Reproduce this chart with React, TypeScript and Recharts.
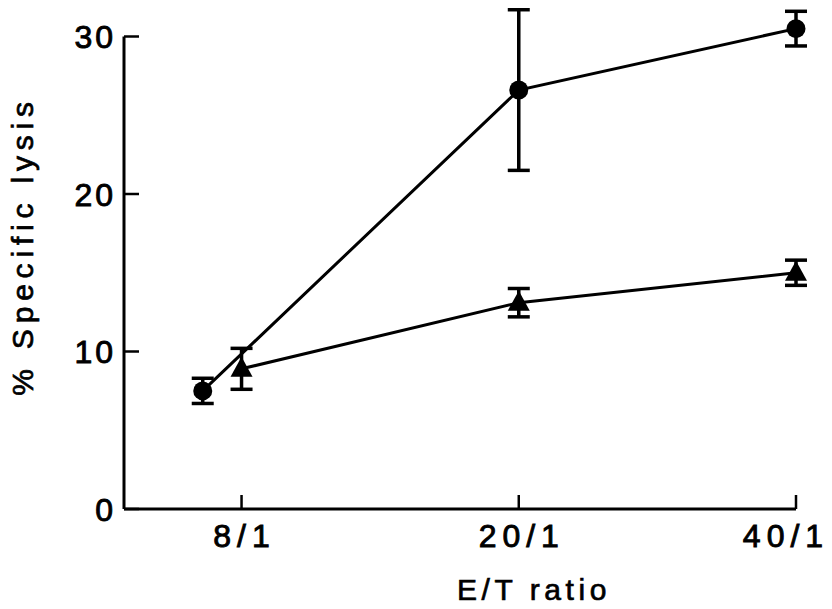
import React from "react";
import {
  ComposedChart,
  Line,
  XAxis,
  YAxis,
  ErrorBar,
  ReferenceLine,
  Label,
} from "recharts";

// E/T ratio categories, placed at index 0..2 on a numeric x axis
const categories = ["8/1", "20/1", "40/1"];

// filled circles (first point drawn a bit left of 8/1, as in the figure)
const circleX = [-0.14, 1, 2];
const circleLysis = [7.5, 26.6, 30.5];
const circleErr = [0.8, 5.1, 1.1];

// filled triangles
const triangleX = [0, 1, 2];
const triangleLysis = [8.9, 13.1, 15.0];
const triangleErr = [1.3, 0.9, 0.8];

const yTicks = [0, 10, 20, 30];
const xTicks = [0, 1, 2];

const X_MIN = -0.424;
const FONT = "'Liberation Sans', Arial, Helvetica, sans-serif";

const circleData = circleX.map((x, i) => ({
  x,
  lysis: circleLysis[i],
  err: circleErr[i],
}));
const triangleData = triangleX.map((x, i) => ({
  x,
  lysis: triangleLysis[i],
  err: triangleErr[i],
}));

const textStyle = {
  fontFamily: FONT,
  fontSize: 32,
  fill: "#000",
  stroke: "#000",
  strokeWidth: 0.9,
};

const YTick = (props: any) => {
  const { x, y, payload } = props;
  return (
    <g>
      <line x1={x} x2={x + 15} y1={y} y2={y} stroke="#000" strokeWidth={2.5} />
      <text x={x - 8} y={y + 11.5} textAnchor="end" letterSpacing={3} {...textStyle}>
        {payload.value}
      </text>
    </g>
  );
};

const XTick = (props: any) => {
  const { x, y, payload } = props;
  // keep the last label inside the picture, as the figure does
  const tx = Math.min(x + 3, 786);
  return (
    <g>
      <line x1={x} x2={x} y1={y} y2={y - 14} stroke="#000" strokeWidth={2.5} />
      <text x={tx} y={y + 38} textAnchor="middle" letterSpacing={6} {...textStyle}>
        {categories[payload.value]}
      </text>
    </g>
  );
};

const CircleDot = (props: any) => {
  const { cx, cy } = props;
  if (cx == null || cy == null) return null;
  return <circle cx={cx} cy={cy} r={9.5} fill="#000" />;
};

const TriangleDot = (props: any) => {
  const { cx, cy } = props;
  if (cx == null || cy == null) return null;
  return (
    <path
      d={`M${cx},${cy - 12} L${cx - 11},${cy + 8} L${cx + 11},${cy + 8} Z`}
      fill="#000"
    />
  );
};

const YLabel = () => {
  const cx = 22;
  const cy = 246;
  return (
    <text
      x={cx}
      y={cy}
      transform={`rotate(-90, ${cx}, ${cy})`}
      textAnchor="middle"
      dominantBaseline="central"
      letterSpacing={5.8}
      {...textStyle}
      fontSize={30}
      strokeWidth={0.7}
    >
      % Specific lysis
    </text>
  );
};

const XLabel = () => {
  return (
    <text
      x={534}
      y={600}
      textAnchor="middle"
      letterSpacing={4.6}
      {...textStyle}
      fontSize={30}
      strokeWidth={0.7}
    >
      E/T ratio
    </text>
  );
};

export default function App() {
  return (
    <div style={{ position: "absolute", left: 0, top: 0, background: "#fff" }}>
      <ComposedChart
        width={832}
        height={609}
        margin={{ top: 5, right: 36, left: 0, bottom: 0 }}
      >
        <XAxis
          type="number"
          dataKey="x"
          domain={[X_MIN, 2]}
          ticks={xTicks}
          interval={0}
          height={100}
          tickSize={0}
          tickMargin={0}
          tickLine={false}
          axisLine={{ stroke: "#000", strokeWidth: 3 }}
          tick={<XTick />}
        >
          <Label content={<XLabel />} />
        </XAxis>
        <YAxis
          type="number"
          domain={[0, 32]}
          ticks={yTicks}
          interval={0}
          width={124}
          tickSize={0}
          tickMargin={0}
          tickLine={false}
          axisLine={false}
          tick={<YTick />}
        >
          <Label content={<YLabel />} />
        </YAxis>
        <ReferenceLine
          segment={[
            { x: X_MIN, y: 0 },
            { x: X_MIN, y: 30 },
          ]}
          stroke="#000"
          strokeWidth={3}
        />
        <Line
          data={circleData}
          dataKey="lysis"
          type="linear"
          stroke="#000"
          strokeWidth={3}
          dot={<CircleDot />}
          activeDot={false}
          isAnimationActive={false}
        >
          <ErrorBar
            dataKey="err"
            direction="y"
            width={11}
            stroke="#000"
            strokeWidth={3.5}
            isAnimationActive={false}
          />
        </Line>
        <Line
          data={triangleData}
          dataKey="lysis"
          type="linear"
          stroke="#000"
          strokeWidth={3}
          dot={<TriangleDot />}
          activeDot={false}
          isAnimationActive={false}
        >
          <ErrorBar
            dataKey="err"
            direction="y"
            width={11}
            stroke="#000"
            strokeWidth={3.5}
            isAnimationActive={false}
          />
        </Line>
      </ComposedChart>
    </div>
  );
}
